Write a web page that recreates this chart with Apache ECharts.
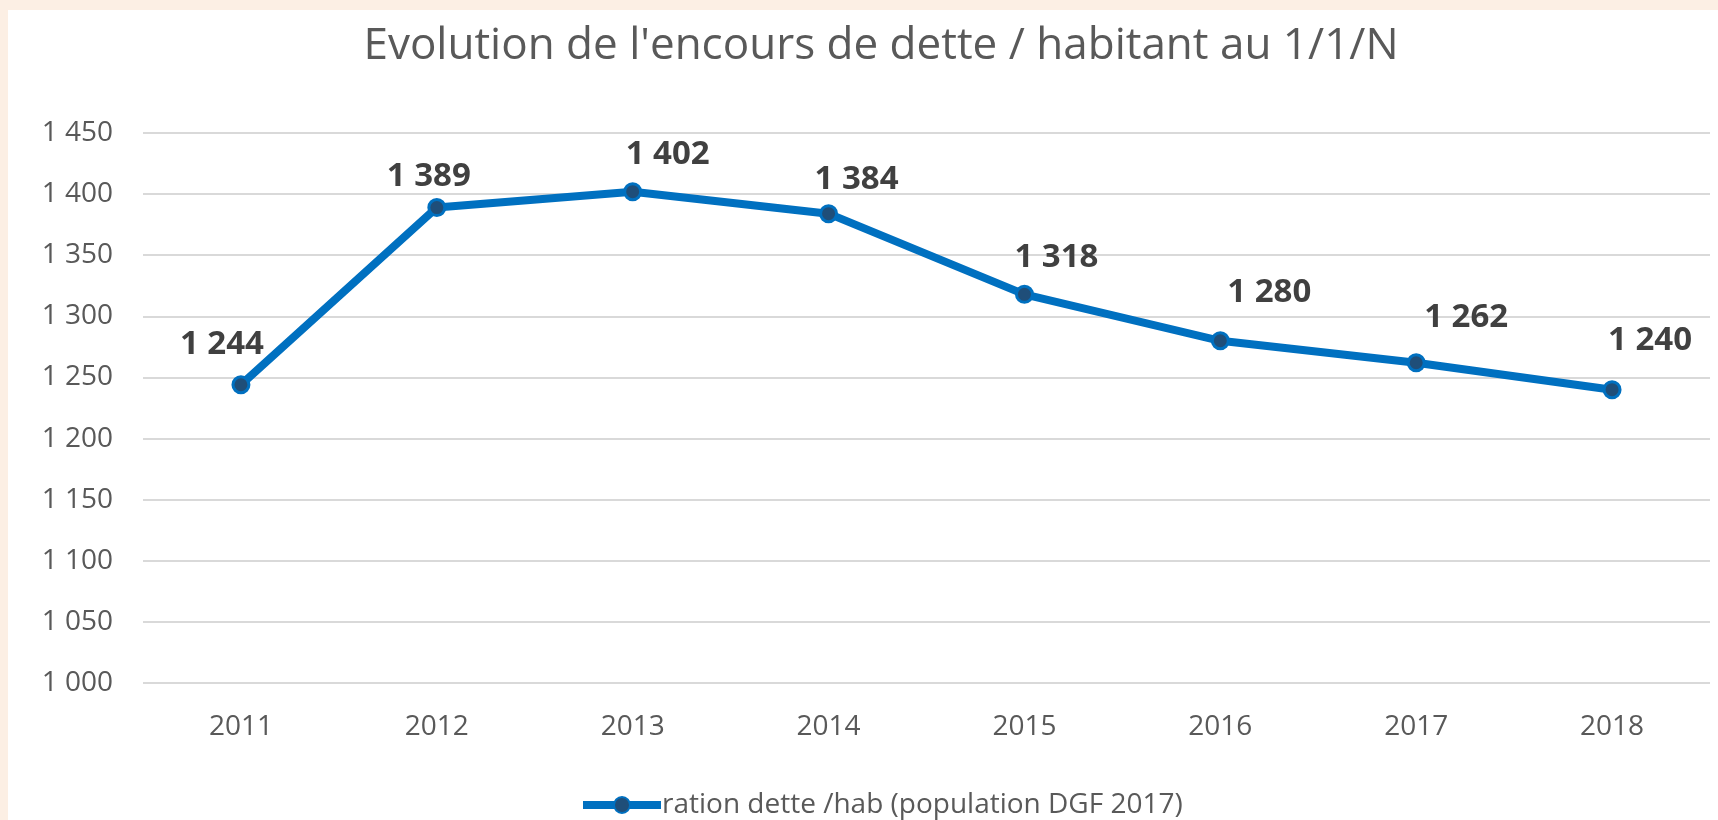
<!DOCTYPE html>
<html>
<head>
<meta charset="utf-8">
<script src="https://cdn.jsdelivr.net/npm/echarts@6/dist/echarts.min.js"></script>
<style>
  html, body { margin: 0; padding: 0; background: #fcefe4; width: 1718px; height: 820px; overflow: hidden; }
  #chart { position: absolute; left: 8px; top: 10px; width: 1710px; height: 810px; background: #ffffff; }
</style>
</head>
<body>
<div id="chart"></div>
<script>
// données
const years = ['2011', '2012', '2013', '2014', '2015', '2016', '2017', '2018']
const detteParHab = [1244, 1389, 1402, 1384, 1318, 1280, 1262, 1240]
const serieName = 'ration dette /hab (population DGF 2017)'

// décalage des étiquettes (déplacées à la main dans le graphique d'origine)
const labelOffsets = [[-19, -40], [-8, -31], [35, -37], [28, -34], [32, -37], [49, -48], [50, -45], [38, -49]]

const fmt = v => {
  const s = String(Math.round(v))
  return s.length > 3 ? s.slice(0, s.length - 3) + ' ' + s.slice(-3) : s
}

const myChart = echarts.init(document.getElementById('chart'))

const option = {
  textStyle: { fontFamily: 'Open Sans' },
  title: {
    text: "Evolution de l'encours de dette / habitant au 1/1/N",
    left: 868,
    textAlign: 'center',
    top: 9,
    textStyle: { fontSize: 44, fontWeight: 'normal', color: '#595959', fontFamily: 'Open Sans' }
  },
  legend: {
    data: [serieName],
    left: 566,
    top: 776,
    itemWidth: 78,
    itemHeight: 20,
    itemGap: 4,
    lineStyle: { width: 8 },
    textStyle: { fontSize: 28, color: '#595959', fontFamily: 'Open Sans', padding: [0, 0, 0, -4] }
  },
  grid: { left: 135, right: 8, top: 123, bottom: 137 },
  xAxis: {
    type: 'category',
    data: years,
    boundaryGap: true,
    axisLine: { show: false },
    axisTick: { show: false },
    axisLabel: { fontSize: 28, color: '#595959', margin: 30 }
  },
  yAxis: {
    type: 'value',
    min: 1000,
    max: 1450,
    interval: 50,
    axisLine: { show: false },
    axisTick: { show: false },
    splitLine: { lineStyle: { color: '#d9d9d9', width: 2 } },
    axisLabel: { fontSize: 28, color: '#595959', margin: 30, formatter: fmt }
  },
  series: [{
    name: serieName,
    type: 'line',
    symbol: 'circle',
    symbolSize: 16,
    lineStyle: { color: '#0070c0', width: 8 },
    itemStyle: { color: '#1f4e79', borderColor: '#0070c0', borderWidth: 3 },
    label: {
      show: true,
      position: 'inside',
      fontSize: 33,
      fontWeight: 'bold',
      color: '#404040',
      fontFamily: 'Open Sans',
      formatter: p => fmt(p.value)
    },
    data: detteParHab.map((v, i) => ({ value: v, label: { offset: labelOffsets[i] } }))
  }],
  animation: false
}

myChart.setOption(option)
</script>
</body>
</html>
